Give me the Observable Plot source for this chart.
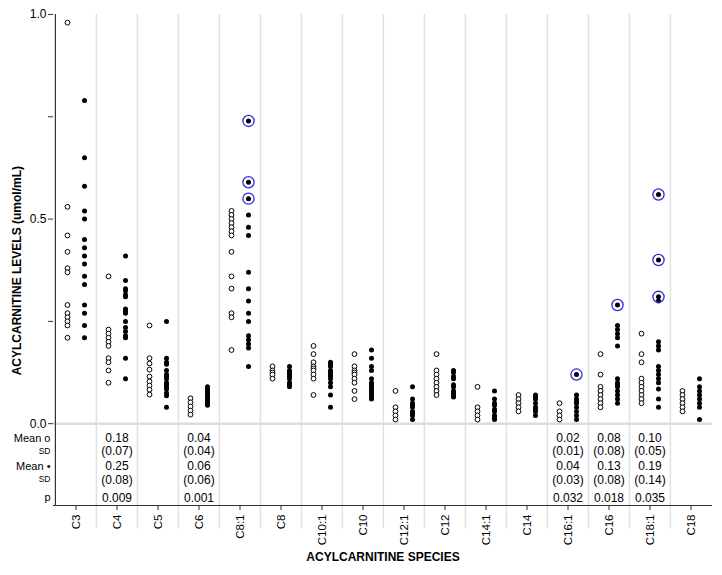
<!DOCTYPE html>
<html><head><meta charset="utf-8">
<script src="https://cdn.jsdelivr.net/npm/d3@7"></script>
<script src="https://cdn.jsdelivr.net/npm/@observablehq/plot@0.6"></script>
<style>body{margin:0;background:#fff;}</style>
</head><body><div id="chart"></div>
<script>
const species = ["C3","C4","C5","C6","C8:1","C8","C10:1","C10","C12:1","C12","C14:1","C14","C16:1","C16","C18:1","C18"];
// open circles (one array per species, same order)
const controlLevels = [
  [0.98,0.53,0.46,0.42,0.38,0.37,0.29,0.27,0.26,0.25,0.24,0.21],
  [0.36,0.23,0.22,0.21,0.20,0.19,0.16,0.15,0.13,0.10],
  [0.24,0.16,0.147,0.132,0.115,0.103,0.093,0.083,0.071],
  [0.062,0.052,0.042,0.032,0.022],
  [0.52,0.51,0.50,0.49,0.48,0.47,0.46,0.42,0.36,0.33,0.27,0.26,0.18],
  [0.14,0.13,0.125,0.12,0.11],
  [0.19,0.17,0.15,0.14,0.135,0.13,0.12,0.11,0.07],
  [0.17,0.14,0.13,0.125,0.12,0.11,0.10,0.08,0.06],
  [0.08,0.04,0.03,0.02,0.01],
  [0.17,0.13,0.12,0.11,0.10,0.09,0.08,0.07],
  [0.09,0.04,0.03,0.02,0.01],
  [0.07,0.06,0.05,0.04,0.03],
  [0.05,0.03,0.02,0.01],
  [0.17,0.12,0.09,0.08,0.07,0.06,0.05,0.04],
  [0.22,0.17,0.15,0.11,0.10,0.09,0.08,0.07,0.06,0.05],
  [0.08,0.07,0.06,0.05,0.04,0.03]
];
// filled circles
const patientLevels = [
  [0.79,0.65,0.58,0.52,0.50,0.45,0.43,0.41,0.39,0.36,0.34,0.29,0.27,0.24,0.21],
  [0.41,0.35,0.33,0.325,0.315,0.31,0.28,0.275,0.27,0.25,0.235,0.225,0.215,0.21,0.16,0.11],
  [0.25,0.16,0.15,0.145,0.13,0.12,0.115,0.11,0.10,0.095,0.09,0.085,0.075,0.068,0.04],
  [0.09,0.085,0.08,0.075,0.07,0.065,0.06,0.055,0.05,0.045],
  [0.74,0.59,0.55,0.51,0.48,0.46,0.37,0.33,0.30,0.27,0.25,0.215,0.205,0.195,0.185,0.14],
  [0.14,0.13,0.125,0.12,0.115,0.11,0.10,0.095,0.09],
  [0.15,0.145,0.14,0.13,0.125,0.12,0.115,0.11,0.10,0.09,0.07,0.04],
  [0.18,0.16,0.14,0.13,0.11,0.10,0.095,0.09,0.085,0.08,0.075,0.07,0.065,0.06],
  [0.09,0.06,0.05,0.045,0.04,0.03,0.025,0.02,0.01],
  [0.13,0.125,0.115,0.11,0.095,0.09,0.08,0.075,0.07,0.065],
  [0.08,0.06,0.05,0.045,0.035,0.03,0.02,0.015,0.01],
  [0.07,0.065,0.06,0.05,0.04,0.035,0.03,0.02],
  [0.12,0.07,0.06,0.055,0.05,0.04,0.03,0.02,0.01],
  [0.29,0.24,0.23,0.22,0.21,0.19,0.11,0.10,0.095,0.09,0.08,0.07,0.06,0.05],
  [0.56,0.40,0.31,0.30,0.20,0.19,0.18,0.14,0.13,0.12,0.11,0.10,0.085,0.06,0.04],
  [0.11,0.09,0.08,0.07,0.06,0.05,0.04,0.01]
];
const circledSpecies = ["C8:1","C8:1","C8:1","C16:1","C16","C18:1","C18:1","C18:1"];
const circledValues  = [0.74,0.59,0.55,0.12,0.29,0.56,0.40,0.31];

const statSpecies = ["C4","C6","C16:1","C16","C18:1"];
const meanControl = [0.18,0.04,0.02,0.08,0.10];
const sdControl   = [0.07,0.04,0.01,0.08,0.05];
const meanPatient = [0.25,0.06,0.04,0.13,0.19];
const sdPatient   = [0.08,0.06,0.03,0.08,0.14];
const pValues     = [0.009,0.001,0.032,0.018,0.035];
const rowLabels   = ["Mean o","SD","Mean \u2022","SD","p"];

// layout
const W = 722, H = 575, ML = 53, MR = 10, MT = 14, MB = 70;
const bw = (W - ML - MR) / species.length;
const rowY = [-0.035, -0.068, -0.104, -0.137, -0.181];
const f2 = d3.format(".2f"), f3 = d3.format(".3f");

const openData = species.flatMap((s, i) => controlLevels[i].map(v => ({species: s, value: v})));
const filledData = species.flatMap((s, i) => patientLevels[i].map(v => ({species: s, value: v})));
const circledData = circledSpecies.map((s, i) => ({species: s, value: circledValues[i]}));
const tableData = statSpecies.flatMap((s, i) => [
  {species: s, row: 0, label: f2(meanControl[i])},
  {species: s, row: 1, label: "(" + f2(sdControl[i]) + ")"},
  {species: s, row: 2, label: f2(meanPatient[i])},
  {species: s, row: 3, label: "(" + f2(sdPatient[i]) + ")"},
  {species: s, row: 4, label: f3(pValues[i])}
]);
const rowData = rowLabels.map((l, i) => ({row: i, label: l}));

const plot = Plot.plot({
  width: W, height: H,
  marginLeft: ML, marginRight: MR, marginTop: MT, marginBottom: MB,
  style: {fontFamily: "'Liberation Sans', Arial, sans-serif", fontSize: "12px", color: "#000", background: "#fff"},
  x: {type: "band", domain: species, padding: 0, label: null},
  y: {domain: [-0.2, 1], label: null},
  marks: [
    Plot.ruleX(species.slice(1), {y1: -0.257, y2: 1, dx: -bw / 2, stroke: "#e1e1e1", strokeWidth: 1.5}),
    Plot.ruleY([0], {stroke: "#dcdcdc", strokeWidth: 2.5}),
    Plot.ruleX([species[0]], {y1: -0.2, y2: 1, dx: -bw / 2, stroke: "#333", strokeWidth: 1.2}),
    Plot.ruleY([-0.2], {stroke: "#333", strokeWidth: 1.2}),
    Plot.axisY({ticks: [0, 0.5, 1], tickFormat: ".1f", tickSize: 5, tickPadding: 2, fontSize: 12, label: null, stroke: "#333"}),
    Plot.axisY({ticks: [0.25, 0.75], tickFormat: () => "", tickSize: 5, label: null, stroke: "#333"}),
    Plot.axisX({tickRotate: -90, tickSize: 5, tickPadding: 4, fontSize: 11.5, label: null, stroke: "#333"}),
    Plot.dot(openData, {x: "species", y: "value", dx: -8.5, r: 2.4, stroke: "#000", strokeWidth: 1, fill: "#fff"}),
    Plot.dot(filledData, {x: "species", y: "value", dx: 8.5, r: 2.5, fill: "#000"}),
    Plot.dot(circledData, {x: "species", y: "value", dx: 8.5, r: 5.6, stroke: "#2a2ae0", strokeWidth: 1.3, fill: "none"}),
    Plot.text(tableData, {x: "species", y: d => rowY[d.row], text: "label", fontSize: 12}),
    Plot.text(rowData.filter(d => d.label !== "SD"), {frameAnchor: "left", y: d => rowY[d.row], text: "label", dx: -3, textAnchor: "end", fontSize: 11}),
    Plot.text(rowData.filter(d => d.label === "SD"), {frameAnchor: "left", y: d => rowY[d.row], text: "label", dx: -3, textAnchor: "end", fontSize: 8.5}),
    Plot.text(["ACYLCARNITINE SPECIES"], {frameAnchor: "bottom", text: d => d, dy: 55, fontWeight: "bold", fontSize: 12}),
    Plot.text(["ACYLCARNITINE LEVELS (umol/mL)"], {frameAnchor: "left", y: [0.374], text: d => d, rotate: -90, dx: -36, textAnchor: "middle", fontWeight: "bold", fontSize: 12})
  ]
});
document.getElementById("chart").append(plot);
</script>
</body></html>
